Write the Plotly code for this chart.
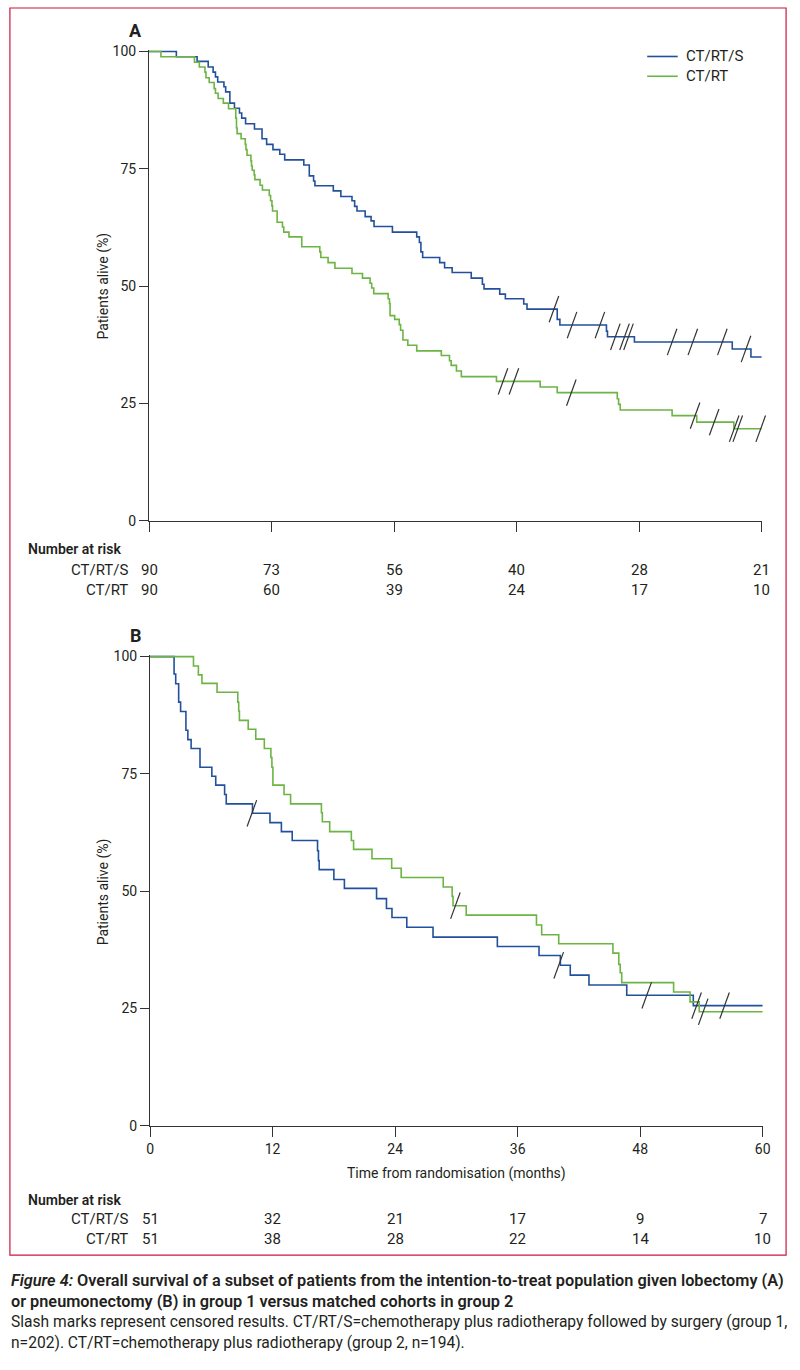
import plotly.graph_objects as go

W, H = 800, 1370

# ---------------- data (months, % alive) ----------------
a_crts_t = [0, 2.67, 4.70, 5.79, 6.27, 6.50, 6.72, 7.33, 7.50, 7.91, 8.36, 8.85, 9.07, 9.45, 10.32,
            11.06, 11.51, 12.13, 12.80, 13.28, 15.15, 15.69, 16.11, 16.24, 18.04, 18.78, 19.87,
            20.13, 20.36, 21.16, 21.74, 22.03, 23.83, 26.21, 26.47, 26.62, 26.79, 28.46, 28.94,
            29.68, 31.55, 32.64, 32.80, 34.34, 34.89, 36.69, 37.01, 39.97, 40.23, 44.79, 44.89,
            47.53, 57.11, 58.94, 60]
a_crts_s = [100, 98.9, 97.9, 96.7, 95.6, 94.6, 93.5, 92.5, 91.4, 89.0, 87.9, 86.9, 85.8, 84.6, 83.5,
            81.4, 80.2, 79.1, 78.1, 76.9, 75.8, 73.5, 72.4, 71.4, 70.3, 69.1, 68.2,
            67.0, 66.0, 64.8, 63.9, 62.7, 61.5, 60.5, 59.3, 57.3, 56.1, 55.0, 53.9,
            52.9, 51.7, 50.4, 49.4, 48.3, 47.3, 46.2, 45.1, 42.9, 41.7, 40.4, 39.2,
            38.1, 36.6, 34.9, 34.9]
a_crts_cens_t = [39.65, 41.42, 44.15, 45.66, 46.56, 46.95, 51.22, 53.25, 56.14, 58.46]
a_crts_cens_s = [45.1, 41.7, 41.7, 39.2, 39.2, 39.2, 38.1, 38.1, 38.1, 36.6]

a_crt_t = [0, 1.16, 4.44, 4.92, 5.47, 5.57, 5.89, 6.37, 6.50, 6.76, 7.27, 7.78, 8.49, 8.56, 8.62,
           9.01, 9.42, 9.49, 9.59, 9.97, 10.03, 10.10, 10.29, 10.36, 10.87, 11.10, 11.77, 11.90,
           12.03, 12.09, 12.54, 13.06, 13.19, 13.70, 14.95, 16.72, 16.82, 17.53, 18.20, 19.87,
           20.90, 21.64, 21.80, 22.00, 23.41, 23.54, 23.60, 24.05, 24.50, 24.63, 24.86, 25.34,
           26.21, 28.62, 29.42, 29.58, 30.10, 30.58, 34.02, 38.30, 39.97, 45.85, 45.98, 46.14,
           51.22, 53.63, 57.27, 60]
a_crt_s = [100, 98.9, 97.7, 96.7, 95.6, 94.4, 93.4, 92.1, 91.1, 90.0, 89.0, 87.8, 85.8, 83.7, 82.5,
           81.4, 80.2, 79.1, 77.9, 76.7, 75.6, 74.7, 73.7, 72.7, 71.5, 70.5, 69.3, 68.2,
           67.1, 66.0, 63.6, 62.6, 61.5, 60.5, 58.4, 57.3, 56.1, 55.0, 53.8, 52.7,
           51.7, 50.6, 49.6, 48.4, 47.3, 46.3, 43.7, 42.9, 41.8, 40.6, 38.5, 37.4,
           36.2, 35.2, 34.1, 33.1, 31.9, 30.7, 29.7, 28.5, 27.3, 26.0, 24.8, 23.6,
           22.4, 21.0, 19.6, 19.6]
a_crt_cens_t = [34.66, 35.73, 41.35, 53.47, 55.34, 57.30, 57.65, 59.90]
a_crt_cens_s = [29.7, 29.7, 27.3, 22.4, 21.0, 19.6, 19.6, 19.6]

b_crts_t = [0, 2.35, 2.51, 2.80, 2.99, 3.51, 3.70, 4.02, 4.89, 6.05, 6.43, 7.30, 7.46, 10.03, 11.74,
            12.86, 13.92, 16.40, 16.49, 16.56, 18.00, 19.03, 22.18, 23.15, 23.69, 25.14, 27.71,
            34.01, 38.09, 40.18, 41.15, 42.98, 46.68, 53.20, 60]
b_crts_s = [100, 96.3, 94.2, 90.3, 88.3, 84.3, 82.3, 80.4, 76.4, 74.5, 72.6, 70.6, 68.6, 66.6, 64.6,
            62.7, 60.8, 58.6, 56.5, 54.6, 52.5, 50.6, 48.4, 46.3, 44.4, 42.3, 40.2,
            38.2, 36.3, 34.2, 32.1, 30.0, 27.8, 25.6, 25.6]
b_crts_cens_t = [9.97, 40.02, 48.64, 53.52, 56.26]
b_crts_cens_s = [66.6, 34.2, 27.8, 25.6, 25.6]

b_crt_t = [0, 4.25, 4.73, 5.08, 6.56, 8.59, 8.68, 8.75, 9.61, 10.35, 11.19, 11.83, 11.93, 12.03,
           13.12, 13.76, 16.78, 16.87, 17.59, 19.71, 19.93, 21.73, 23.66, 24.59, 28.71, 29.58,
           29.67, 30.96, 37.84, 38.35, 40.02, 45.33, 45.90, 46.04, 46.19, 51.27, 52.88, 53.78, 60]
b_crt_s = [100, 98.0, 96.1, 94.3, 92.4, 90.3, 88.4, 86.4, 84.5, 82.4, 80.4, 78.5, 76.4, 72.6,
           70.6, 68.6, 66.7, 64.8, 62.7, 60.8, 58.9, 56.9, 54.9, 52.9, 50.9, 48.9,
           46.9, 44.9, 42.8, 40.7, 38.8, 36.8, 34.4, 32.6, 30.5, 28.5, 26.4, 24.3, 24.3]
b_crt_cens_t = [29.90, 54.17]
b_crt_cens_s = [46.9, 24.3]

x_ticks = [0, 12, 24, 36, 48, 60]
y_ticks = [0, 25, 50, 75, 100]
series_names = ["CT/RT/S", "CT/RT"]
risk_a_crts = [90, 73, 56, 40, 28, 21]
risk_a_crt = [90, 60, 39, 24, 17, 10]
risk_b_crts = [51, 32, 21, 17, 9, 7]
risk_b_crt = [51, 38, 28, 22, 14, 10]

# ---------------- style ----------------
BLUE = "#22509c"
GREEN = "#6cb444"
INK = "#231f20"
AX = "#333333"
BORDER = "#c8183f"
FONT = "Roboto, Noto Sans, sans-serif"


def X(px):
    return px / W


def Y(py):
    return 1 - py / H


fig = go.Figure()


def add_panel(t1, s1, c1t, c1s, t2, s2, c2t, c2s, xa, ya):
    for t, s, col, nm in [(t1, s1, BLUE, series_names[0]), (t2, s2, GREEN, series_names[1])]:
        fig.add_trace(go.Scatter(x=t, y=s, mode="lines", line=dict(color=col, width=1.6, shape="hv"),
                                 xaxis=xa, yaxis=ya, name=nm, showlegend=False, hoverinfo="skip"))
    for ct, cs in [(c1t, c1s), (c2t, c2s)]:
        fig.add_trace(go.Scatter(x=ct, y=cs, mode="markers", xaxis=xa, yaxis=ya, showlegend=False,
                                 hoverinfo="skip", cliponaxis=False,
                                 marker=dict(symbol="line-ns", size=20, angle=20,
                                             line=dict(color=AX, width=1.2))))


add_panel(a_crts_t, a_crts_s, a_crts_cens_t, a_crts_cens_s,
          a_crt_t, a_crt_s, a_crt_cens_t, a_crt_cens_s, "x", "y")
add_panel(b_crts_t, b_crts_s, b_crts_cens_t, b_crts_cens_s,
          b_crt_t, b_crt_s, b_crt_cens_t, b_crt_cens_s, "x2", "y2")

YTOP = 100.4
PPU = 4.74  # px per % unit

common_x = dict(range=[0, 60], tickvals=x_ticks, showline=True, linecolor=AX, linewidth=1.2,
                ticks="outside", ticklen=10, tickcolor=AX, tickwidth=1.2, showgrid=False,
                zeroline=False, tickfont=dict(family=FONT, size=14, color=INK))
common_y = dict(range=[0, YTOP], tickvals=y_ticks, showline=True, linecolor=AX, linewidth=1.2,
                ticks="outside", ticklen=9, tickcolor=AX, tickwidth=1.2, showgrid=False,
                zeroline=False, tickfont=dict(family=FONT, size=14, color=INK))

fig.update_layout(
    width=W, height=H, margin=dict(l=0, r=0, t=0, b=0),
    paper_bgcolor="white", plot_bgcolor="white", showlegend=False,
    xaxis=dict(domain=[X(147.3), X(769.3)], anchor="y", showticklabels=False, **common_x),
    yaxis=dict(domain=[Y(520), Y(520 - YTOP * PPU)], anchor="x", **common_y),
    xaxis2=dict(domain=[X(148.3), X(770.3)], anchor="y2", showticklabels=True, **common_x),
    yaxis2=dict(domain=[Y(1131.3), Y(1131.3 - YTOP * PPU)], anchor="x2", **common_y),
)

ann = []


def txt(x, y, s, size=14, anchor="left", bold=False, angle=0, xref="paper", color=INK, weight=None):
    w = weight if weight is not None else ("bold" if bold else "normal")
    ann.append(dict(x=x, y=y, xref=xref, yref="paper", text=s, showarrow=False, xanchor=anchor,
                    yanchor="middle", textangle=angle,
                    font=dict(family=FONT, size=size, color=color, weight=w)))


# panel letters
txt(X(134), Y(25), "A", size=18, anchor="center", bold=True)
txt(X(134), Y(636), "B", size=18, anchor="center", bold=True)
# y titles
txt(X(101), Y(283), "Patients alive (%)", size=14, anchor="center", angle=-90)
txt(X(101), Y(895), "Patients alive (%)", size=14, anchor="center", angle=-90)
# x title
txt(X(459), Y(1180), "Time from randomisation (months)", size=14, anchor="center")

# legend (panel A)
shapes = []
for i, (nm, col) in enumerate(zip(series_names, [BLUE, GREEN])):
    yy = 51 + 20 * i
    shapes.append(dict(type="line", xref="paper", yref="paper", x0=X(653), x1=X(684), y0=Y(yy), y1=Y(yy),
                       line=dict(color=col, width=1.6)))
    txt(X(690), Y(yy), nm, size=15)

# number at risk tables
for (xr, rows, ys) in [("x", [risk_a_crts, risk_a_crt], (549, 570, 590)),
                       ("x2", [risk_b_crts, risk_b_crt], (1206, 1226, 1246))]:
    txt(X(22), Y(ys[0]), "Number at risk", size=14, weight=600)
    for nm, row, yy in zip(series_names, rows, ys[1:]):
        txt(X(128), Y(yy), nm, size=15, anchor="right")
        for tv, v in zip(x_ticks, row):
            txt(tv, Y(yy), str(v), size=15, anchor="center", xref=xr)

# caption
txt(X(5), Y(1288), "<i>Figure 4:</i> Overall survival of a subset of patients from the intention-to-treat population given lobectomy (A)",
    size=16.3, weight=600)
txt(X(5), Y(1309), "or pneumonectomy (B) in group 1 versus matched cohorts in group 2", size=16.3, weight=600)
txt(X(5), Y(1330), "Slash marks represent censored results. CT/RT/S=chemotherapy plus radiotherapy followed by surgery (group 1,",
    size=15.6)
txt(X(5), Y(1351), "n=202). CT/RT=chemotherapy plus radiotherapy (group 2, n=194).", size=15.6)

# border box
shapes.append(dict(type="rect", xref="paper", yref="paper", x0=X(6), x1=X(794), y0=Y(1262), y1=Y(2),
                   line=dict(color=BORDER, width=1.2), layer="below"))

fig.update_layout(annotations=ann, shapes=shapes)
fig.write_html("out.html", config={"displayModeBar": False},
               post_script="document.body.style.margin='0';document.body.style.overflow='hidden';")
